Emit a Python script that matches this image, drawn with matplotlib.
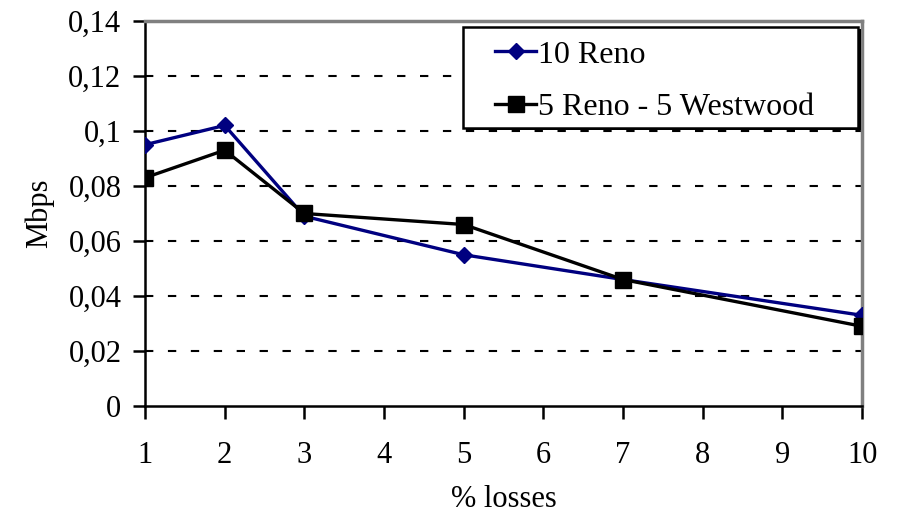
import matplotlib.pyplot as plt
from matplotlib.patches import Rectangle
from matplotlib.ticker import FuncFormatter

# dados
perdas = [1, 2, 3, 5, 7, 10]
reno10 = [0.095, 0.102, 0.069, 0.055, 0.046, 0.033]
reno5_westwood5 = [0.083, 0.093, 0.070, 0.066, 0.046, 0.029]

plt.rcParams['font.family'] = ['Liberation Serif', 'DejaVu Serif']

fig = plt.figure(figsize=(8.98, 5.22), dpi=100)
ax = fig.add_axes([0.1615, 0.222, 0.7985, 0.738])

ax.plot(perdas, reno10, color='#000080', marker='D', markersize=8, lw=2.4, label='10 Reno', zorder=3)
ax.plot(perdas, reno5_westwood5, color='black', marker='s', markersize=11, lw=2.4,
        label='5 Reno - 5 Westwood', zorder=3)

ax.set_xlim(1, 10)
ax.set_ylim(0, 0.14)
ax.set_xticks(range(1, 11))
ax.set_yticks([0, 0.02, 0.04, 0.06, 0.08, 0.1, 0.12, 0.14])
ax.yaxis.set_major_formatter(FuncFormatter(lambda v, p: '0' if v == 0 else f'{v:.2f}'.rstrip('0').replace('.', ',')))

for y in [0.02, 0.04, 0.06, 0.08, 0.1, 0.12]:
    ax.axhline(y, color='black', ls=(0, (4, 7)), lw=1.5, zorder=1)

ax.spines['top'].set_color('#808080')
ax.spines['right'].set_color('#808080')
ax.spines['top'].set_linewidth(2.5)
ax.spines['right'].set_linewidth(2.5)
ax.spines['left'].set_linewidth(1.8)
ax.spines['bottom'].set_linewidth(1.8)
ax.tick_params(direction='out', length=9, width=1.8, labelsize=22)
ax.tick_params(axis='x', pad=16)
ax.tick_params(axis='y', pad=8)

ax.set_xlabel('% losses', fontsize=22, labelpad=11)
ax.set_ylabel('Mbps', fontsize=22, labelpad=10)

# caixa da legenda (com sombra à direita e em baixo)
ax.add_patch(Rectangle((0.448, 0.716), 0.551, 0.263, transform=ax.transAxes,
                       facecolor='black', edgecolor='none', zorder=4, clip_on=False))
ax.add_patch(Rectangle((0.4435, 0.722), 0.551, 0.2624, transform=ax.transAxes,
                       facecolor='white', edgecolor='black', lw=1.8, zorder=4, clip_on=False))

leg = ax.legend(loc='upper left', bbox_to_anchor=(0.488, 0.95), fontsize=23, frameon=False,
                handlelength=1.3, handletextpad=0.05, borderpad=0, labelspacing=0.72,
                borderaxespad=0)
leg.set_zorder(5)

plt.savefig('out.png', dpi=100)
